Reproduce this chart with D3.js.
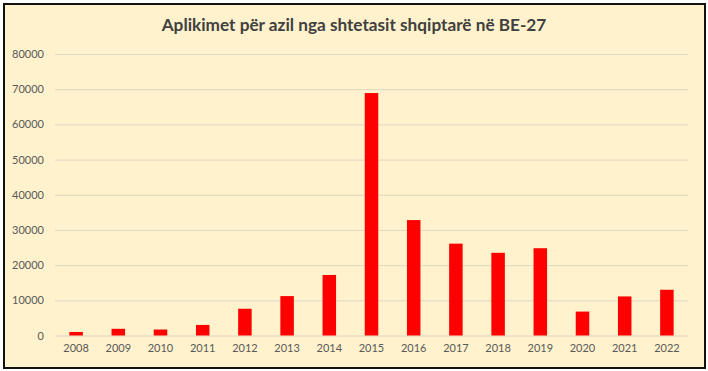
<!DOCTYPE html>
<html>
<head>
<meta charset="utf-8">
<script src="https://cdn.jsdelivr.net/npm/d3@7"></script>
<style>
  body { margin: 0; background: #fff; }
  svg text { font-family: Lato, "Open Sans", sans-serif; }
</style>
</head>
<body>
<div class="grafico"></div>
<script>
var width = 708,
  height = 371;

var margin = { top: 54, right: 20, bottom: 36, left: 55 };

// data
const years = ["2008", "2009", "2010", "2011", "2012", "2013", "2014", "2015",
  "2016", "2017", "2018", "2019", "2020", "2021", "2022"];
const applications = [1000, 1900, 1700, 3000, 7600, 11200, 17200, 68900,
  32800, 26100, 23500, 24800, 6800, 11100, 13000];
const yTicks = [0, 10000, 20000, 30000, 40000, 50000, 60000, 70000, 80000];
const title = "Aplikimet për azil nga shtetasit shqiptarë në BE-27";

let svg = d3.select(".grafico")
  .append("svg")
  .attr("width", width)
  .attr("height", height);

// frame
svg.append("rect")
  .attr("x", 4)
  .attr("y", 4)
  .attr("width", 701)
  .attr("height", 364)
  .attr("fill", "#fff2cc")
  .attr("stroke", "#111")
  .attr("stroke-width", 2);

svg.append("text")
  .attr("x", 354)
  .attr("y", 31)
  .attr("text-anchor", "middle")
  .attr("font-size", 17.2)
  .attr("font-weight", "bold")
  .attr("fill", "#404040")
  .text(title);

const plotW = 688 - margin.left,
  plotH = 335.5 - margin.top;

const x = d3.scaleBand()
  .domain(years)
  .range([0, plotW])
  .paddingInner(0.68)
  .paddingOuter(0.34);

const y = d3.scaleLinear()
  .domain([0, 80000])
  .range([plotH, 0]);

let g = svg.append("g")
  .attr("transform", "translate(" + margin.left + "," + margin.top + ")");

// gridlines
g.append("g")
  .attr("class", "grid")
  .call(d3.axisLeft(y).tickValues(yTicks).tickSize(-plotW).tickFormat(""))
  .call(s => s.select(".domain").remove())
  .selectAll("line")
  .attr("stroke", "#dcd6c4")
  .attr("stroke-width", 1);

// y labels
g.append("g")
  .attr("class", "y axis")
  .call(d3.axisLeft(y).tickValues(yTicks).tickSize(0).tickPadding(11).tickFormat(d => d))
  .call(s => s.select(".domain").remove())
  .selectAll("text")
  .attr("font-size", 11)
  .attr("fill", "#595959");

g.selectAll("rect.bar")
  .data(applications)
  .enter().append("rect")
  .attr("class", "bar")
  .attr("x", (d, i) => x(years[i]))
  .attr("y", d => y(d))
  .attr("width", x.bandwidth())
  .attr("height", d => plotH - y(d))
  .attr("fill", "#ff0000");

// x labels
g.append("g")
  .attr("class", "x axis")
  .attr("transform", "translate(0," + plotH + ")")
  .call(d3.axisBottom(x).tickSize(0).tickPadding(9))
  .call(s => s.select(".domain").remove())
  .selectAll("text")
  .attr("font-size", 11)
  .attr("fill", "#595959");
</script>
</body>
</html>
